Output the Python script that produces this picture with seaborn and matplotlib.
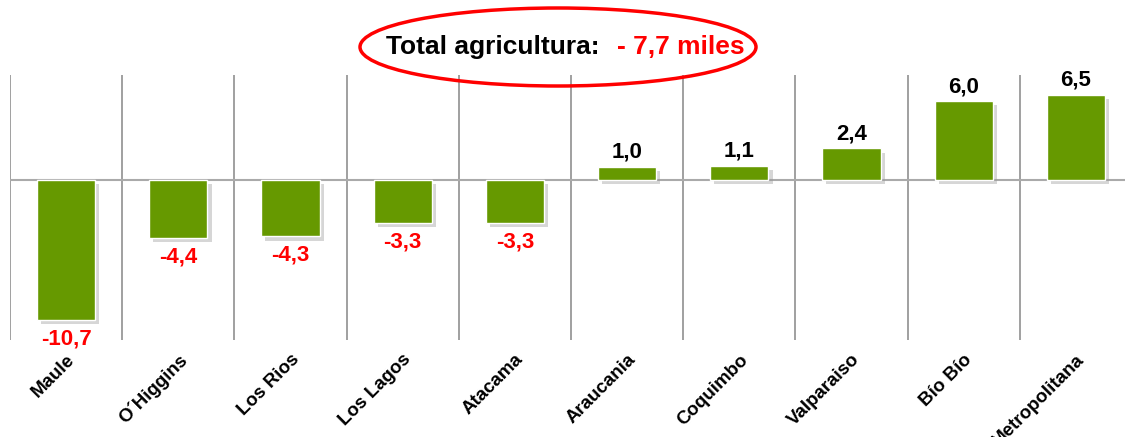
import numpy as np
import pandas as pd
import seaborn as sns
import matplotlib.pyplot as plt
import matplotlib.patheffects as pe
from matplotlib.patches import Ellipse

regions = ["Maule", "O´Higgins", "Los Rios", "Los Lagos", "Atacama",
           "Araucania", "Coquimbo", "Valparaiso", "Bío Bío", "Metropolitana"]
values = [-10.7, -4.4, -4.3, -3.3, -3.3, 1.0, 1.1, 2.4, 6.0, 6.5]
labels = ["-10,7", "-4,4", "-4,3", "-3,3", "-3,3", "1,0", "1,1", "2,4", "6,0", "6,5"]

df = pd.DataFrame({'region': regions, 'value': values})

sns.set_style('white')
plt.rcParams['font.family'] = ['Liberation Sans', 'DejaVu Sans']

fig = plt.figure(figsize=(11.25, 4.37), dpi=100)
ax = fig.add_axes([10 / 1125, 1 - 340 / 437, 1122 / 1125, 265 / 437])

sns.barplot(data=df, x='region', y='value', color='#669900', saturation=1,
            width=0.52, ax=ax)
for p in ax.patches:
    p.set_path_effects([pe.SimplePatchShadow(offset=(3, -3), shadow_rgbFace='#999999', alpha=0.4),
                        pe.Normal()])

ax.set_ylim(-12.2, 8.0)
ax.set_xlim(-0.5, len(regions) - 0.5)

# category separators and zero line
for i in range(len(regions) + 1):
    ax.axvline(i - 0.5, color='#999999', lw=1.3, zorder=0)
ax.axhline(0, color='#aaaaaa', lw=1.5, zorder=0)

for s in ax.spines.values():
    s.set_visible(False)
ax.set_yticks([])
ax.set_xlabel('')
ax.set_ylabel('')
ax.tick_params(axis='x', length=0, pad=8, colors='black')
ax.set_xticks(range(len(regions)))
ax.set_xticklabels(regions, rotation=45, ha='right', rotation_mode='anchor',
                   fontsize=13.5, fontweight='bold', color='black')

for i, (v, t) in enumerate(zip(values, labels)):
    if v < 0:
        ax.annotate(t, (i, v), xytext=(0, -6), textcoords='offset points',
                    ha='center', va='top', color='#ff0000', fontsize=16, fontweight='bold')
    else:
        ax.annotate(t, (i, v), xytext=(0, 3), textcoords='offset points',
                    ha='center', va='bottom', color='black', fontsize=16, fontweight='bold')

# title in red ellipse
fig.patches.append(Ellipse((558 / 1125, 1 - 47 / 437), 396 / 1125, 78 / 437,
                           transform=fig.transFigure, fill=False, edgecolor='#ff0000',
                           lw=2.5, zorder=5))
fig.text(386 / 1125, 1 - 47 / 437, 'Total agricultura:', ha='left', va='center',
         fontsize=19, fontweight='bold', color='black')
fig.text(617 / 1125, 1 - 47 / 437, '- 7,7 miles', ha='left', va='center',
         fontsize=19, fontweight='bold', color='#ff0000')

fig.savefig('out.png', dpi=100)
